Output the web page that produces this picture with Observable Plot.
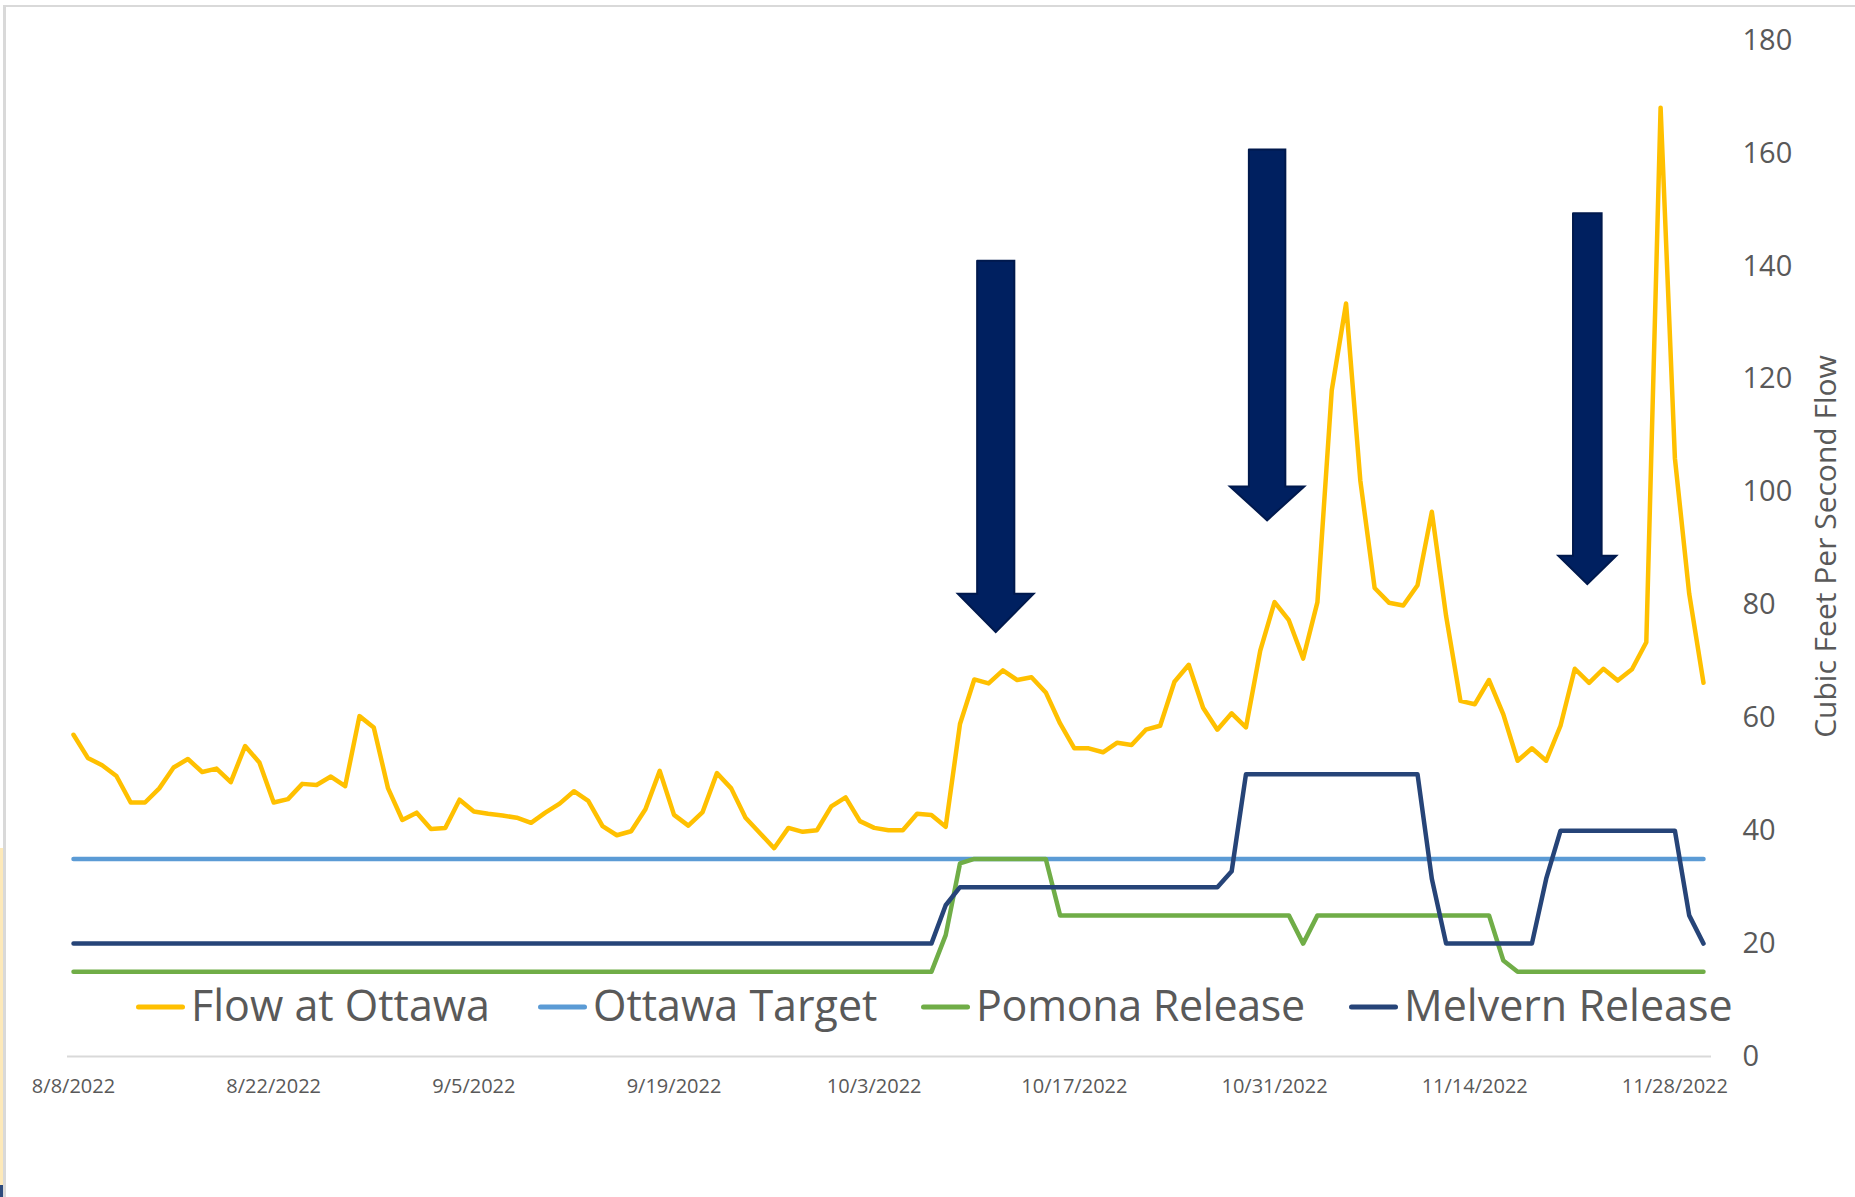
<!DOCTYPE html>
<html>
<head>
<meta charset="utf-8">
<script src="https://cdn.jsdelivr.net/npm/d3@7"></script>
<script src="https://cdn.jsdelivr.net/npm/@observablehq/plot@0.6"></script>
<style>
  html, body { margin: 0; padding: 0; background: #fff; }
  #chart { position: relative; width: 1855px; height: 1197px; overflow: hidden; font-family: "Open Sans", sans-serif; }
  #chart > svg { position: absolute; left: 0; top: 0; }
  .frame { position: absolute; left: 3px; top: 5px; right: 0; bottom: 0; border-top: 2px solid #d9d9d9; border-left: 3px solid #d9d9d9; pointer-events: none; }
  .edge-tint { position: absolute; left: 0; top: 848px; width: 3px; height: 349px; background: #fde9b9; }
  .edge-corner { position: absolute; left: 0; top: 1185px; width: 3px; height: 12px; background: #2f4b7c; }
  #legend { position: absolute; left: 0; top: 983px; width: 1855px; height: 43px; font-size: 43px; line-height: 43px; color: #595959; white-space: nowrap; }
  #legend .item { position: absolute; top: 0; display: flex; align-items: center; }
  #legend .item:nth-child(1) { left: 136px; }
  #legend .item:nth-child(2) { left: 538px; }
  #legend .item:nth-child(3) { left: 921px; letter-spacing: -0.3px; }
  #legend .item:nth-child(4) { left: 1349px; }
  #legend .item svg { position: relative; top: 2px; margin-right: 6px; }
</style>
</head>
<body>
<div id="chart">
  <div class="edge-tint"></div>
  <div class="edge-corner"></div>
  <div class="frame"></div>
</div>
<script>
// Daily readings, 8/8/2022 through 11/30/2022 (cubic feet per second)
const startDate = "2022-08-08";

const seriesNames = ["Flow at Ottawa", "Ottawa Target", "Pomona Release", "Melvern Release"];
const seriesColors = ["#FFC000", "#5B9BD5", "#70AD47", "#264478"];

const flowAtOttawa = [
  57.0, 52.9, 51.6, 49.7, 45.0, 45.0, 47.5, 51.2, 52.7, 50.4,
  51.0, 48.6, 55.0, 52.1, 45.0, 45.6, 48.3, 48.1, 49.6, 47.9,
  60.3, 58.3, 47.5, 41.9, 43.2, 40.3, 40.5, 45.5, 43.4, 43.0,
  42.7, 42.3, 41.4, 43.2, 44.8, 47.0, 45.3, 40.8, 39.2, 39.9,
  43.8, 50.6, 42.8, 40.9, 43.3, 50.2, 47.5, 42.3, 39.6, 36.9,
  40.5, 39.8, 40.1, 44.3, 45.9, 41.7, 40.5, 40.1, 40.1, 43.0,
  42.8, 40.7, 58.9, 66.8, 66.1, 68.4, 66.7, 67.2, 64.5, 59.0,
  54.6, 54.6, 53.9, 55.6, 55.2, 57.9, 58.6, 66.4, 69.4, 61.8,
  57.9, 60.8, 58.3, 71.9, 80.5, 77.3, 70.5, 80.5, 118.0, 133.4,
  102.0, 83.0, 80.4, 79.9, 83.5, 96.5, 78.0, 63.0, 62.4, 66.7,
  60.6, 52.4, 54.6, 52.4, 58.6, 68.7, 66.2, 68.7, 66.6, 68.6,
  73.4, 168.1, 106.0, 82.0, 66.2
];

const ottawaTarget = [
  35, 35, 35, 35, 35, 35, 35, 35, 35, 35,
  35, 35, 35, 35, 35, 35, 35, 35, 35, 35,
  35, 35, 35, 35, 35, 35, 35, 35, 35, 35,
  35, 35, 35, 35, 35, 35, 35, 35, 35, 35,
  35, 35, 35, 35, 35, 35, 35, 35, 35, 35,
  35, 35, 35, 35, 35, 35, 35, 35, 35, 35,
  35, 35, 35, 35, 35, 35, 35, 35, 35, 35,
  35, 35, 35, 35, 35, 35, 35, 35, 35, 35,
  35, 35, 35, 35, 35, 35, 35, 35, 35, 35,
  35, 35, 35, 35, 35, 35, 35, 35, 35, 35,
  35, 35, 35, 35, 35, 35, 35, 35, 35, 35,
  35, 35, 35, 35, 35
];

const pomonaRelease = [
  15, 15, 15, 15, 15, 15, 15, 15, 15, 15,
  15, 15, 15, 15, 15, 15, 15, 15, 15, 15,
  15, 15, 15, 15, 15, 15, 15, 15, 15, 15,
  15, 15, 15, 15, 15, 15, 15, 15, 15, 15,
  15, 15, 15, 15, 15, 15, 15, 15, 15, 15,
  15, 15, 15, 15, 15, 15, 15, 15, 15, 15,
  15, 21.5, 34.2, 35, 35, 35, 35, 35, 35, 25,
  25, 25, 25, 25, 25, 25, 25, 25, 25, 25,
  25, 25, 25, 25, 25, 25, 20, 25, 25, 25,
  25, 25, 25, 25, 25, 25, 25, 25, 25, 25,
  17, 15, 15, 15, 15, 15, 15, 15, 15, 15,
  15, 15, 15, 15, 15
];

const melvernRelease = [
  20, 20, 20, 20, 20, 20, 20, 20, 20, 20,
  20, 20, 20, 20, 20, 20, 20, 20, 20, 20,
  20, 20, 20, 20, 20, 20, 20, 20, 20, 20,
  20, 20, 20, 20, 20, 20, 20, 20, 20, 20,
  20, 20, 20, 20, 20, 20, 20, 20, 20, 20,
  20, 20, 20, 20, 20, 20, 20, 20, 20, 20,
  20, 26.8, 30, 30, 30, 30, 30, 30, 30, 30,
  30, 30, 30, 30, 30, 30, 30, 30, 30, 30,
  30, 32.8, 50, 50, 50, 50, 50, 50, 50, 50,
  50, 50, 50, 50, 50, 31.5, 20, 20, 20, 20,
  20, 20, 20, 31.5, 40, 40, 40, 40, 40, 40,
  40, 40, 40, 25, 20
];

const xTickLabels = ["8/8/2022", "8/22/2022", "9/5/2022", "9/19/2022", "10/3/2022",
                     "10/17/2022", "10/31/2022", "11/14/2022", "11/28/2022"];
const yTicks = [0, 20, 40, 60, 80, 100, 120, 140, 160, 180];
const yAxisTitle = "Cubic Feet Per Second Flow";

// Down-arrow call-outs: centre date and flow levels of the tail, the head's shoulders and its tip
const arrowCenters = ["2022-10-11T12:00Z", "2022-10-30T11:30Z", "2022-11-21T21:00Z"];
const arrowTops = [141, 160.7, 149.4];
const arrowShoulders = [82, 101, 88.7];
const arrowTips = [75.2, 95, 83.7];
const arrowShaftDays = [2.6, 2.55, 2.0];
const arrowHeadDays = [5.3, 5.2, 4.05];

const dayMs = 864e5;
const t0 = Date.parse(startDate + "T00:00Z");
const dates = flowAtOttawa.map((_, i) => new Date(t0 + i * dayMs));

const parseTick = d3.utcParse("%m/%d/%Y");
const xTickDates = xTickLabels.map(parseTick);
const tickText = new Map(xTickDates.map((d, i) => [+d, xTickLabels[i]]));

const seriesValues = [flowAtOttawa, ottawaTarget, pomonaRelease, melvernRelease];
const rows = [];
seriesNames.forEach((name, s) => {
  seriesValues[s].forEach((v, i) => rows.push({date: dates[i], series: name, value: v}));
});

// Outline of each block arrow, traced clockwise from the top-left corner of the tail
const arrowRows = [];
arrowCenters.forEach((c, k) => {
  const cx = Date.parse(c);
  const sh = arrowShaftDays[k] / 2 * dayMs;
  const hh = arrowHeadDays[k] / 2 * dayMs;
  const top = arrowTops[k], sho = arrowShoulders[k], tip = arrowTips[k];
  [[cx - sh, top], [cx + sh, top], [cx + sh, sho], [cx + hh, sho], [cx, tip],
   [cx - hh, sho], [cx - sh, sho], [cx - sh, top]]
    .forEach(([t, v]) => arrowRows.push({arrow: k, date: new Date(t), value: v}));
});

const lastDate = dates[dates.length - 1];

const chart = Plot.plot({
  width: 1855,
  height: 1197,
  marginLeft: 67,
  marginRight: 144,
  marginTop: 40,
  marginBottom: 141,
  style: {fontFamily: "'Open Sans', sans-serif", background: "transparent", overflow: "visible"},
  x: {type: "utc", domain: [new Date(t0 - 0.42 * dayMs), new Date(+lastDate + 0.56 * dayMs)]},
  y: {domain: [0, 180]},
  color: {domain: seriesNames, range: seriesColors},
  marks: [
    Plot.ruleY([0], {stroke: "#d9d9d9", strokeWidth: 2}),
    Plot.axisX({
      ticks: xTickDates,
      tickFormat: (d) => tickText.get(+d),
      tickSize: 0,
      tickPadding: 22,
      fontSize: 20,
      color: "#595959",
      label: null
    }),
    Plot.axisY({
      anchor: "right",
      ticks: yTicks,
      tickSize: 0,
      tickPadding: 31,
      fontSize: 29,
      color: "#595959",
      label: null
    }),
    Plot.text([yAxisTitle], {
      frameAnchor: "right",
      textAnchor: "middle",
      rotate: -90,
      dx: 115,
      dy: -2,
      fontSize: 30,
      fill: "#595959"
    }),
    Plot.line(rows, {
      x: "date",
      y: "value",
      z: "series",
      stroke: "series",
      strokeWidth: 4.5,
      strokeLinejoin: "round",
      strokeLinecap: "round"
    }),
    Plot.line(arrowRows, {
      x: "date",
      y: "value",
      z: "arrow",
      fill: "#002060",
      stroke: "#00194d",
      strokeWidth: 2,
      strokeLinejoin: "miter",
      strokeMiterlimit: 10
    })
  ]
});

const host = document.getElementById("chart");
host.insertBefore(chart, host.firstChild);

// Legend row laid over the lower part of the plot
const legend = document.createElement("div");
legend.id = "legend";
seriesNames.forEach((name, s) => {
  const item = document.createElement("div");
  item.className = "item";
  item.innerHTML =
    `<svg width="49" height="10"><line x1="2.5" y1="5" x2="46.5" y2="5" stroke="${seriesColors[s]}" stroke-width="5" stroke-linecap="round"/></svg>` +
    `<span>${name}</span>`;
  legend.appendChild(item);
});
host.appendChild(legend);
</script>
</body>
</html>
